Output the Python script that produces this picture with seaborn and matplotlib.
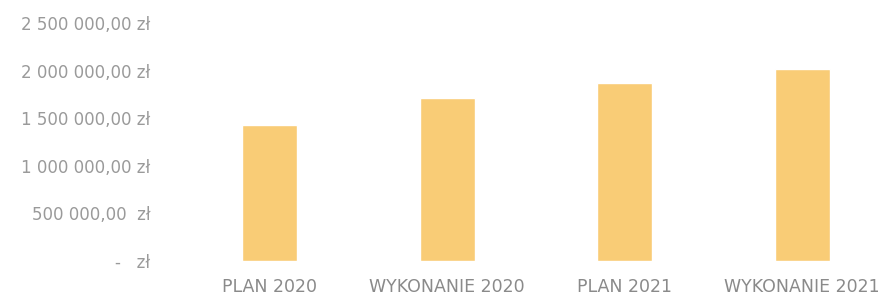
import matplotlib
matplotlib.use("Agg")
import matplotlib.pyplot as plt
import seaborn as sns
import pandas as pd

categories = ["PLAN 2020", "WYKONANIE 2020", "PLAN 2021", "WYKONANIE 2021"]
values = [1424000, 1707000, 1874000, 2020000]
ytick_values = [0, 500000, 1000000, 1500000, 2000000, 2500000]
ytick_labels = ["-   zł", "500 000,00  zł", "1 000 000,00 zł", "1 500 000,00 zł",
                "2 000 000,00 zł", "2 500 000,00 zł"]

sns.set_style("white")
plt.rcParams['font.family'] = ['DejaVu Sans']

df = pd.DataFrame({"cat": categories, "val": values})
fig = plt.figure(figsize=(8.91, 2.99), dpi=100)
ax = fig.add_axes([181/891, 1 - 261/299, 710/891, 238/299])
sns.barplot(data=df, x="cat", y="val", color="#F9CC76", width=0.31,
            saturation=1, ax=ax)
ax.set_ylim(0, 2500000)
ax.set_xlim(-0.5, 3.5)
ax.set_yticks(ytick_values)
ax.set_yticklabels(ytick_labels, color="#9a9a9a", fontsize=12)
ax.tick_params(axis="x", colors="#8a8a8a", labelsize=12.5, length=0, pad=12)
ax.tick_params(axis="y", length=0, pad=22)
ax.set_xlabel("")
ax.set_ylabel("")
for s in ax.spines.values():
    s.set_visible(False)
fig.savefig("out.png", dpi=100)
